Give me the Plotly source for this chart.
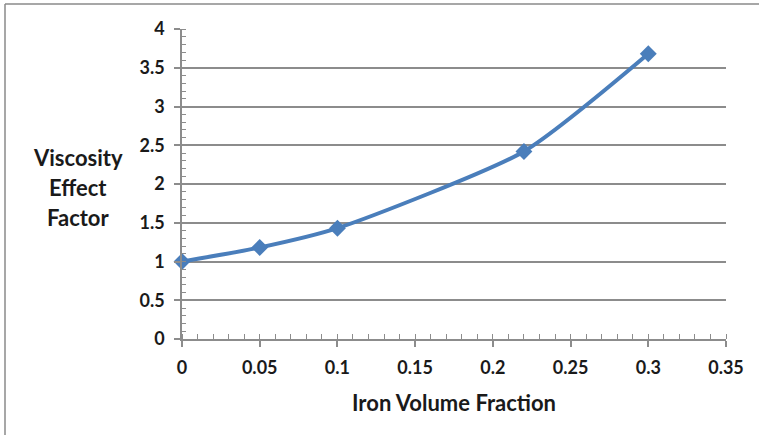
import plotly.graph_objects as go

iron_fraction = [0, 0.05, 0.1, 0.22, 0.3]
viscosity_factor = [1.0, 1.18, 1.43, 2.42, 3.68]
y_title_lines = ["Viscosity", "Effect", "Factor"]
x_title = "Iron Volume Fraction"

BLUE = "#4a7ebb"
GRID = "#8c8c8c"
FONT = "Lato"
TXT = "#1a1a1a"

fig = go.Figure()
fig.add_trace(go.Scatter(
    x=iron_fraction, y=viscosity_factor, mode="lines+markers",
    line=dict(color=BLUE, width=4, shape="spline", smoothing=0.6),
    marker=dict(symbol="diamond", size=13, color=BLUE),
    showlegend=False, cliponaxis=False,
))

W, H = 759, 435
L, R, T, B = 182, 33, 29, 96
pw, ph = W - L - R, H - T - B

fig.update_layout(
    width=W, height=H,
    margin=dict(l=L, r=R, t=T, b=B),
    paper_bgcolor="white", plot_bgcolor="white",
    font=dict(family=FONT, size=18, color=TXT),
    xaxis=dict(
        range=[0, 0.35], dtick=0.05, tickformat="~g",
        showgrid=False, zeroline=False,
        showline=True, linecolor=GRID, linewidth=1.5,
        ticks="outside", ticklen=6, tickcolor=GRID, tickwidth=1.5,
        minor=dict(ticks="inside", dtick=0.01, ticklen=5, tickcolor=GRID, tickwidth=1),
        tickfont=dict(family=FONT, size=18, color=TXT, weight="bold"),
        ticklabelstandoff=6,
    ),
    yaxis=dict(
        range=[0, 4], dtick=0.5, tickformat="~g",
        showgrid=True, gridcolor=GRID, gridwidth=1.5, zeroline=False,
        showline=True, linecolor=GRID, linewidth=1.5,
        ticks="outside", ticklen=6, tickcolor=GRID, tickwidth=1.5,
        minor=dict(ticks="inside", dtick=0.1, ticklen=4, tickcolor=GRID, tickwidth=1, showgrid=False),
        tickfont=dict(family=FONT, size=18, color=TXT, weight="bold"),
        ticklabelstandoff=6,
    ),
)

# y title as three horizontal lines
for i, line in enumerate(y_title_lines):
    ypix = 157 + 30 * i
    fig.add_annotation(
        text=line, xref="paper", yref="paper",
        x=(77.5 - L) / pw, y=(H - B - ypix) / ph,
        xanchor="center", yanchor="middle", showarrow=False,
        font=dict(family=FONT, size=22, color=TXT, weight="bold"),
    )

fig.add_annotation(
    text=x_title, xref="paper", yref="paper",
    x=(453.5 - L) / pw, y=(H - B - 402) / ph,
    xanchor="center", yanchor="middle", showarrow=False,
    font=dict(family=FONT, size=22, color=TXT, weight="bold"),
)

# outer chart frame (top and left edges visible)
fig.add_shape(
    type="line", xref="paper", yref="paper",
    x0=(5 - L) / pw, x1=(W + 20 - L) / pw,
    y0=(H - B - 4) / ph, y1=(H - B - 4) / ph,
    line=dict(color="#8a8a8a", width=1.5), layer="below",
)
fig.add_shape(
    type="line", xref="paper", yref="paper",
    x0=(5 - L) / pw, x1=(5 - L) / pw,
    y0=(H - B - 4) / ph, y1=(H - B - H - 20) / ph,
    line=dict(color="#8a8a8a", width=1.5), layer="below",
)

fig.write_html(
    "out.html",
    config={"displayModeBar": False},
    post_script="document.body.style.margin='0';document.body.style.overflow='hidden';",
)
